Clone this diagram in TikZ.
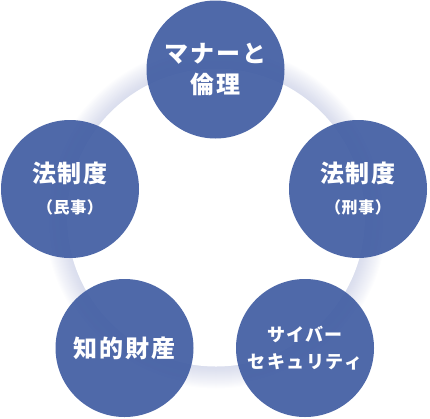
\documentclass[tikz,border=0pt]{standalone}
\usepackage{fontspec}
\newfontfamily\jpfont{Noto Sans CJK JP}[LetterSpace=8]
\newfontfamily\jpnote{Noto Sans CJK JP}[LetterSpace=4]
\definecolor{circblue}{RGB}{66,94,163}
\definecolor{ringshade}{RGB}{150,160,205}

\begin{document}
\begin{tikzpicture}[x=1pt, y=-1pt,
    topic/.style={circle, fill=circblue, fill opacity=0.93, text opacity=1,
        text=white, minimum size=138pt, inner sep=0pt, align=center,
        font=\jpfont\bfseries\fontsize{24}{31}\selectfont},
    kana/.style={font=\jpfont\bfseries\fontsize{18}{27}\selectfont}]
    \useasboundingbox (0,0) rectangle (430,418);

    % ring with soft shadow
    \coordinate (hub) at (216,217.5);
    \foreach \k in {1,...,22} {
    \fill[ringshade, opacity=0.018] (hub) circle (149+\k);
    }
    \fill[white] (hub) circle (149);

    \node[topic] (manner) at (215.5,69.5) {マナーと\\倫理};
    \node[topic] (civil) at (70,189) {法制度\\{\jpnote\bfseries\fontsize{16}{20}\selectfont（民事）}};
    \node[topic] (penal) at (358,189) {法制度\\{\jpnote\bfseries\fontsize{16}{20}\selectfont（刑事）}};
    \node[topic] (ip) at (124.5,348) {知的財産};
    \node[topic, kana] (cyber) at (305,348) {サイバー\\セキュリティ};
\end{tikzpicture}
\end{document}
